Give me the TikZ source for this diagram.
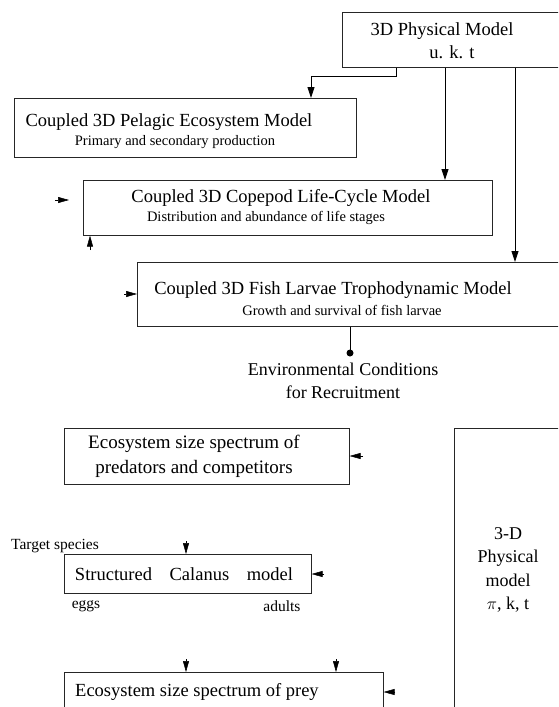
\documentclass[tikz,border=0pt]{standalone}
\usepackage{fontspec}
\setmainfont{Liberation Serif}
\usetikzlibrary{arrows.meta,positioning}

\tikzset{
  box/.style={draw=black!85, line width=0.6pt, anchor=north west, inner sep=0pt},
  ttl/.style={font=\fontsize{18.5}{21}\selectfont, inner sep=0pt},
  sub/.style={font=\fontsize{14.5}{17}\selectfont, inner sep=0pt},
  lbl/.style={font=\fontsize{18}{23.3}\selectfont, inner sep=0pt, align=center},
  note/.style={font=\fontsize{15.5}{17}\selectfont, inner sep=0pt},
  arr/.style={line width=0.9pt, -{Triangle[length=11pt,width=7pt]}},
  tip/.style={line width=0.5pt, -{Triangle[length=11pt,width=6pt]}},
}

\begin{document}
\begin{tikzpicture}[x=1pt,y=-1pt]
  \useasboundingbox (0,0) rectangle (558,707);
  \clip (0,0) rectangle (558,707);

  % upper chain of coupled models
  \node[box, minimum width=240pt, minimum height=55pt] (phys) at (342,12) {};
  \node[ttl] (phys-t) at (442,31) {3D Physical Model};
  \node[ttl] (phys-s) at (452,52) {u. k. t};

  \node[box, minimum width=342pt, minimum height=59pt] (pelagic) at (14,98) {};
  \node[ttl] (pelagic-t) at (169,122) {Coupled 3D Pelagic Ecosystem Model};
  \node[sub] (pelagic-s) at (175,142) {Primary and secondary production};

  \node[box, minimum width=409pt, minimum height=55pt] (cop) at (83,180) {};
  \node[ttl] (cop-t) at (281,198) {Coupled 3D Copepod Life-Cycle Model};
  \node[sub] (cop-s) at (266,218) {Distribution and abundance of life stages};

  \node[box, minimum width=440pt, minimum height=64pt] (fish) at (137,262) {};
  \node[ttl] (fish-t) at (333,290) {Coupled 3D Fish Larvae Trophodynamic Model};
  \node[sub] (fish-s) at (342,310) {Growth and survival of fish larvae};

  \draw[arr] ([xshift=54pt]phys.south west) -- ++(0,9) -| ([xshift=297pt]pelagic.north west);
  \draw[arr] ([xshift=103pt]phys.south west) -- ([xshift=103pt]phys.south west |- cop.north);
  \draw[arr] ([xshift=173pt]phys.south west) -- ([xshift=173pt]phys.south west |- fish.north);

  \coordinate (cop-a) at (55,200);
  \coordinate (cop-b) at (69,200);
  \draw[tip] (cop-a) -- (cop-b);
  \coordinate (cop-c) at (90,250);
  \draw[tip] (cop-c) -- (cop-c |- cop.south);
  \coordinate (fish-a) at (124,294);
  \draw[tip] (fish-a) -- (fish-a -| fish.west);

  \coordinate (env) at (350,353);
  \draw[line width=0.9pt] (env |- fish.south) -- (env);
  \fill (env) circle (3.5pt);
  \node[lbl] (env-t) at (343,381) {Environmental Conditions\\for Recruitment};

  % lower food-web model
  \node[box, minimum width=285pt, minimum height=56pt] (pred) at (64,428) {};
  \node[lbl, font=\fontsize{19}{25}\selectfont] (pred-t) at (194,456) {Ecosystem size spectrum of\\predators and competitors};

  \node[box, minimum width=120pt, minimum height=300pt] (phys2) at (454,428) {};
  \node[lbl] (phys2-t) at (508,570) {3-D\\Physical\\model\\$\pi$, k, t};

  \node[box, minimum width=247pt, minimum height=39pt] (cal) at (64,554) {};
  \node[ttl] (cal-t) at (184,574) {Structured\hspace{0.7em} Calanus\hspace{0.7em} model};
  \node[note] (target) at (55,546) {Target species};
  \node[note] (eggs) at (86,606) {eggs};
  \node[note] (adults) at (282,606) {adults};

  \node[box, minimum width=319pt, minimum height=60pt] (prey) at (64,672) {};
  \node[ttl, anchor=west] (prey-t) at (75,692) {Ecosystem size spectrum of prey};

  \coordinate (pred-a) at (363,456);
  \draw[tip] (pred-a) -- (pred-a -| pred.east);
  \coordinate (cal-a) at (186,541);
  \draw[tip] (cal-a) -- (cal-a |- cal.north);
  \coordinate (cal-b) at (324,574);
  \draw[tip] (cal-b) -- (cal-b -| cal.east);
  \coordinate (prey-a) at (186,659);
  \draw[tip] (prey-a) -- (prey-a |- prey.north);
  \coordinate (prey-b) at (336,659);
  \draw[tip] (prey-b) -- (prey-b |- prey.north);
  \coordinate (prey-c) at (395,692);
  \draw[tip] (prey-c) -- (prey-c -| prey.east);
\end{tikzpicture}
\end{document}
